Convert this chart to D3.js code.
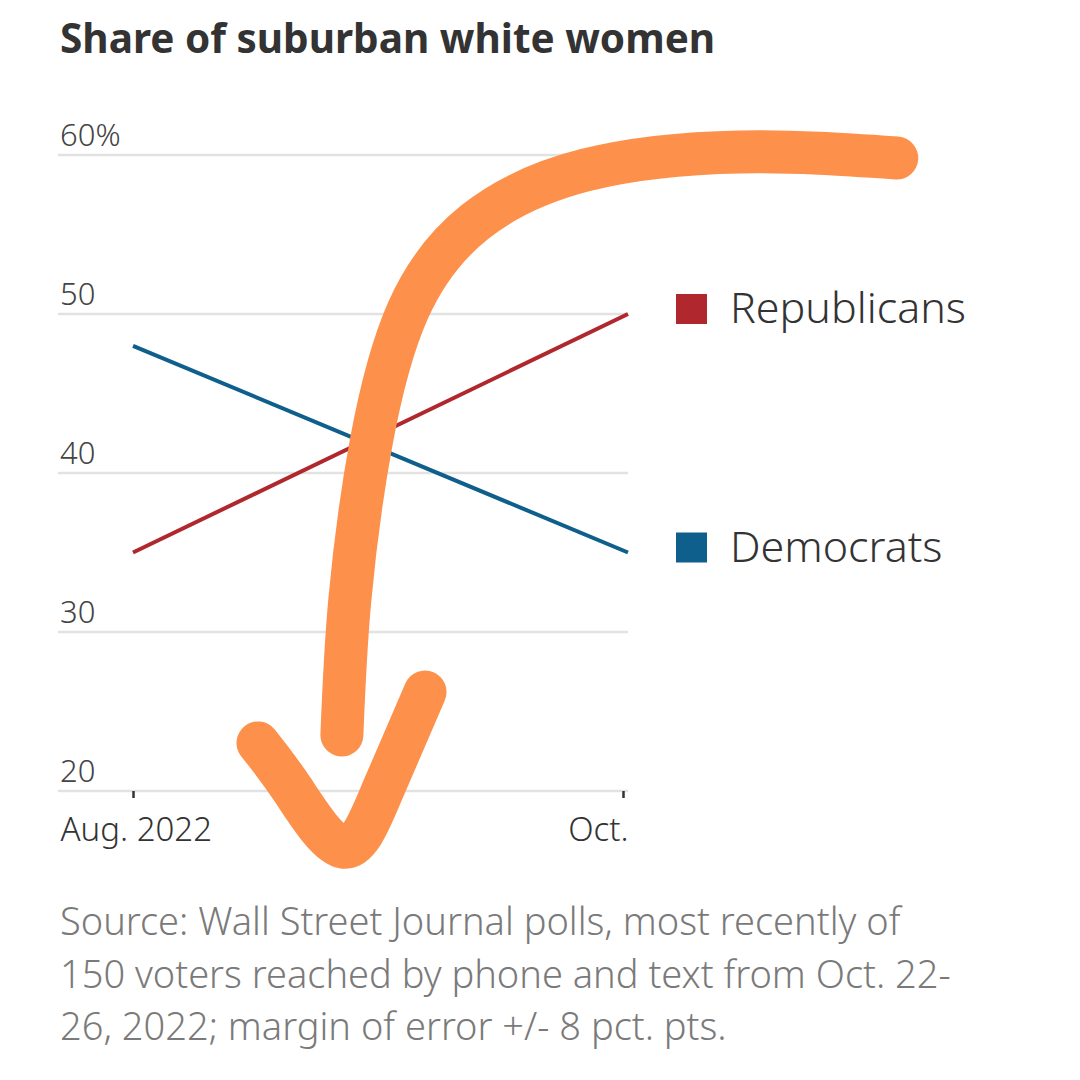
<!DOCTYPE html>
<meta charset="utf-8">
<head>
  <title>Share of suburban white women</title>
</head>
<style>
body { margin: 0; background: #fff; }
text { font-family: "Noto Sans", "Open Sans", sans-serif; }
.axis path { display: none; }
.grid line { stroke: #e2e2e2; stroke-width: 2.5; }
</style>
<body>
<svg width="1080" height="1080"></svg>
<script src="https://cdn.jsdelivr.net/npm/d3@7"></script>
<script>
var periods = ["Aug. 2022", "Oct."];
var republicans = [35, 50];
var democrats = [48, 35];
var yTicks = [20, 30, 40, 50, 60];
var series = [
  { name: "Republicans", values: republicans, color: "#b0282e" },
  { name: "Democrats", values: democrats, color: "#0e5f8b" }
];
var sourceLines = [
  "Source: Wall Street Journal polls, most recently of",
  "150 voters reached by phone and text from Oct. 22-",
  "26, 2022; margin of error +/- 8 pct. pts."
];
// hand drawn arrow, in chart units (period index, percent)
var arrowStem = [[1.543, 59.81], [1.226, 60.19], [0.915, 59.06], [0.691, 55.79],
  [0.556, 50.25], [0.481, 41.89], [0.438, 32.01], [0.422, 23.52]];
var arrowHead = [[0.2525, 23.02], [0.323, 20.06], [0.424, 16.48], [0.503, 19.94], [0.59, 26.23]];

var svg = d3.select("svg");
svg.append("rect").attr("width", 1080).attr("height", 1080).attr("fill", "#fff");

var x = d3.scaleLinear().domain([0, 1]).range([133, 628]);
var y = d3.scaleLinear().domain([20, 60]).range([791, 155]);

svg.append("text")
  .attr("x", 60).attr("y", 53)
  .attr("font-size", 40.5).attr("font-weight", "bold").attr("fill", "#333")
  .text("Share of suburban white women");

// gridlines
var grid = svg.append("g").attr("class", "grid");
grid.selectAll("line").data(yTicks).enter().append("line")
  .attr("x1", 58).attr("x2", 628)
  .attr("y1", function(d) { return y(d); })
  .attr("y2", function(d) { return y(d); });

svg.append("g").selectAll("text").data(yTicks).enter().append("text")
  .attr("x", 60)
  .attr("y", function(d) { return y(d) - 9; })
  .attr("font-size", 31).attr("fill", "#444")
  .attr("font-family", "Roboto, sans-serif")
  .attr("font-weight", 300)
  .text(function(d) { return d === 60 ? d + "%" : d; });

// x axis
var xAxis = svg.append("g").attr("class", "axis")
  .attr("transform", "translate(0," + y(20) + ")")
  .call(d3.axisBottom(x).tickValues([0, 1]).tickSize(7).tickPadding(20)
    .tickFormat(function(d) { return periods[d]; }));
xAxis.selectAll(".tick line").attr("stroke", "#333").attr("stroke-width", 2.5)
  .attr("transform", function(d) { return d === 1 ? "translate(-5,0)" : null; });
xAxis.selectAll(".tick text")
  .attr("font-size", 33).attr("fill", "#333")
  .attr("font-family", "Roboto, sans-serif")
  .attr("font-weight", 300)
  .attr("dy", "0.71em")
  .attr("text-anchor", function(d) { return d === 0 ? "start" : "end"; })
  .attr("x", function(d) { return d === 0 ? 60 - x(0) : 0; });

// lines
var line = d3.line()
  .x(function(d, i) { return x(i); })
  .y(function(d) { return y(d); });

svg.append("g").selectAll("path").data(series).enter().append("path")
  .attr("d", function(d) { return line(d.values); })
  .attr("fill", "none")
  .attr("stroke", function(d) { return d.color; })
  .attr("stroke-width", 4);

// legend beside the line ends
var legend = svg.append("g").selectAll("g").data(series).enter().append("g")
  .attr("transform", function(d) {
    return "translate(676," + (y(d.values[1]) - 6) + ")";
  });
legend.append("rect")
  .attr("x", 0).attr("y", -14).attr("width", 31).attr("height", 30)
  .attr("fill", function(d) { return d.color; });
legend.append("text")
  .attr("x", 54).attr("y", 15)
  .attr("font-size", 43).attr("fill", "#333").attr("font-weight", 300)
  .text(function(d) { return d.name; });

// source
svg.append("g").selectAll("text").data(sourceLines).enter().append("text")
  .attr("x", 60)
  .attr("y", function(d, i) { return 935 + i * 52.5; })
  .attr("font-size", 38).attr("fill", "#7a7a7a").attr("font-weight", 300)
  .text(function(d) { return d; });

// orange annotation arrow
var curve = d3.line()
  .x(function(d) { return x(d[0]); })
  .y(function(d) { return y(d[1]); })
  .curve(d3.curveNatural);
svg.append("g").selectAll("path").data([arrowStem, arrowHead]).enter().append("path")
  .attr("d", curve)
  .attr("fill", "none")
  .attr("stroke", "#fd914c")
  .attr("stroke-width", 43)
  .attr("stroke-linecap", "round")
  .attr("stroke-linejoin", "round");
</script>
</body>
</html>
